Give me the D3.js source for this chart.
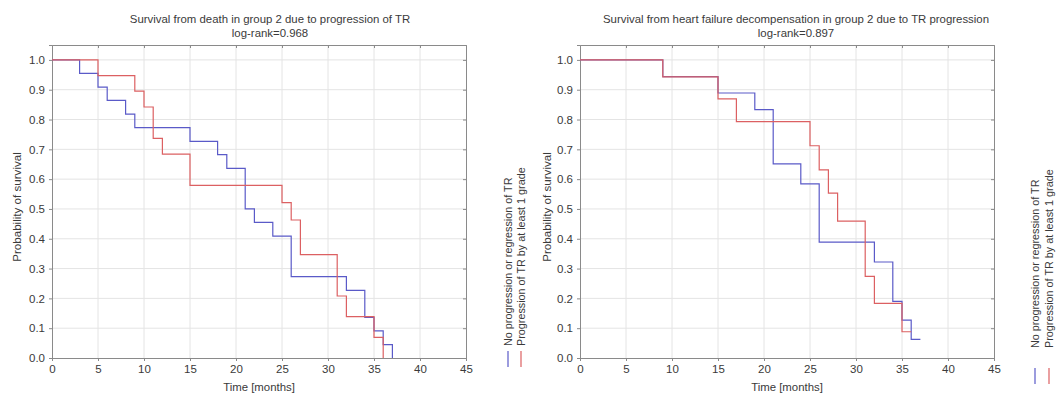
<!DOCTYPE html>
<html>
<head>
<meta charset="utf-8">
<script src="https://cdn.jsdelivr.net/npm/d3@7"></script>
<style>
  body { margin: 0; background: #fff; }
  text { font-family: "Liberation Sans", Arial, sans-serif; fill: #3a3a3a; }
</style>
</head>
<body>
<div id="chart"></div>
<script>
// survival curves (time in months, survival probability)
var deathBlueTime = [0, 3, 5, 6, 8, 9, 15, 18, 19, 21, 22, 24, 26, 32, 34, 35, 36, 37];
var deathBlueSurv = [1, 0.955, 0.909, 0.864, 0.818, 0.773, 0.727, 0.682, 0.636, 0.5, 0.455, 0.409, 0.273, 0.227, 0.136, 0.091, 0.045, 0];
var deathRedTime = [0, 5, 9, 10, 11, 12, 15, 25, 26, 27, 31, 32, 35, 36];
var deathRedSurv = [1, 0.947, 0.895, 0.842, 0.737, 0.684, 0.579, 0.521, 0.463, 0.347, 0.208, 0.139, 0.069, 0];

var hfBlueTime = [0, 9, 15, 19, 21, 24, 26, 32, 34, 35, 36, 37];
var hfBlueSurv = [1, 0.944, 0.889, 0.833, 0.651, 0.584, 0.389, 0.322, 0.19, 0.127, 0.0625, 0.0625];
var hfRedTime = [0, 9, 15, 17, 25, 26, 27, 28, 31, 32, 35, 36];
var hfRedSurv = [1, 0.943, 0.869, 0.793, 0.712, 0.631, 0.553, 0.459, 0.274, 0.183, 0.088, 0.088];

var xTicks = [0, 5, 10, 15, 20, 25, 30, 35, 40, 45];
var yTicks = [0, 0.1, 0.2, 0.3, 0.4, 0.5, 0.6, 0.7, 0.8, 0.9, 1.0];
var legendLabels = ["No progression or regression of TR", "Progression of TR by at least 1 grade"];

var blue = "#5a5ac8", red = "#dc6062";

var width = 1056, height = 396;
var svg = d3.select("#chart").append("svg")
    .attr("width", width)
    .attr("height", height);

function drawChart(opts) {
    var x = d3.scaleLinear().domain([0, 45]).range([opts.left, opts.left + 414]);
    var y = d3.scaleLinear().domain([0, 1.05]).range([358, 45]);
    var g = svg.append("g");

    // grid
    g.selectAll(".vgrid").data(xTicks.slice(1, -1)).enter().append("line")
        .attr("x1", function(d) { return x(d) }).attr("x2", function(d) { return x(d) })
        .attr("y1", y.range()[0]).attr("y2", y.range()[1])
        .attr("stroke", "#e4e4e4");
    g.selectAll(".hgrid").data(yTicks.slice(1)).enter().append("line")
        .attr("y1", function(d) { return y(d) }).attr("y2", function(d) { return y(d) })
        .attr("x1", x.range()[0]).attr("x2", x.range()[1])
        .attr("stroke", "#e4e4e4");

    // axes
    var xAxis = g.append("g").attr("transform", "translate(0,358)")
        .call(d3.axisBottom(x).tickValues(xTicks).tickSize(3).tickPadding(4));
    var yAxis = g.append("g").attr("transform", "translate(" + opts.left + ",0)")
        .call(d3.axisLeft(y).tickValues(yTicks).tickFormat(d3.format(".1f")).tickSize(3).tickPadding(4));
    var topAxis = g.append("g").attr("transform", "translate(0,45)")
        .call(d3.axisTop(x).tickValues(xTicks.slice(1, -1)).tickSize(-3).tickFormat(""));
    var rightAxis = g.append("g").attr("transform", "translate(" + x.range()[1] + ",0)")
        .call(d3.axisRight(y).tickValues(yTicks.slice(1)).tickSize(-3).tickFormat(""));
    [xAxis, yAxis, topAxis, rightAxis].forEach(function(a) {
        a.select(".domain").attr("stroke", "#8a8a8a");
        a.selectAll(".tick line").attr("stroke", "#8a8a8a");
        a.selectAll("text").attr("font-size", 11.5).attr("fill", "#444")
            .attr("font-family", "'Liberation Sans', Arial, sans-serif");
    });

    // curves
    var line = d3.line()
        .x(function(d) { return x(d[0]) })
        .y(function(d) { return y(d[1]) })
        .curve(d3.curveStepAfter);
    opts.series.forEach(function(s) {
        g.append("path")
            .datum(d3.zip(s.time, s.surv))
            .attr("fill", "none")
            .attr("stroke", s.color)
            .attr("stroke-width", 1.2)
            .attr("d", line);
    });

    // titles
    var title = g.append("text").attr("text-anchor", "middle").attr("font-size", 11.4);
    title.append("tspan").attr("x", opts.titleX).attr("y", 23).text(opts.title);
    title.append("tspan").attr("x", opts.titleX).attr("y", 37).text(opts.subtitle);

    g.append("text").attr("text-anchor", "middle").attr("font-size", 11.4)
        .attr("x", (x.range()[0] + x.range()[1]) / 2).attr("y", 391)
        .text("Time [months]");
    g.append("text").attr("text-anchor", "middle").attr("font-size", 11.6)
        .attr("transform", "translate(" + opts.yLabelX + ",207) rotate(-90)")
        .text("Probability of survival");

    // legend
    var colors = [blue, red];
    legendLabels.forEach(function(lab, i) {
        var lx = opts.legendX + i * opts.legendGap;
        g.append("line")
            .attr("x1", lx).attr("x2", lx)
            .attr("y1", opts.legendLineY).attr("y2", opts.legendLineY + 16)
            .attr("stroke", colors[i]).attr("stroke-width", 1.2);
        g.append("text").attr("font-size", 10.8)
            .attr("transform", "translate(" + (lx + 4) + "," + opts.legendTextY + ") rotate(-90)")
            .text(lab);
    });
}

drawChart({
    left: 52, titleX: 270, yLabelX: 21, legendX: 508, legendGap: 13,
    legendLineY: 351, legendTextY: 346,
    title: "Survival from death in group 2 due to progression of TR",
    subtitle: "log-rank=0.968",
    series: [
        { time: deathBlueTime, surv: deathBlueSurv, color: blue },
        { time: deathRedTime, surv: deathRedSurv, color: red }
    ]
});
drawChart({
    left: 580, titleX: 796, yLabelX: 551, legendX: 1035, legendGap: 14,
    legendLineY: 368, legendTextY: 348,
    title: "Survival from heart failure decompensation in group 2 due to TR progression",
    subtitle: "log-rank=0.897",
    series: [
        { time: hfBlueTime, surv: hfBlueSurv, color: blue },
        { time: hfRedTime, surv: hfRedSurv, color: red }
    ]
});
</script>
</body>
</html>
